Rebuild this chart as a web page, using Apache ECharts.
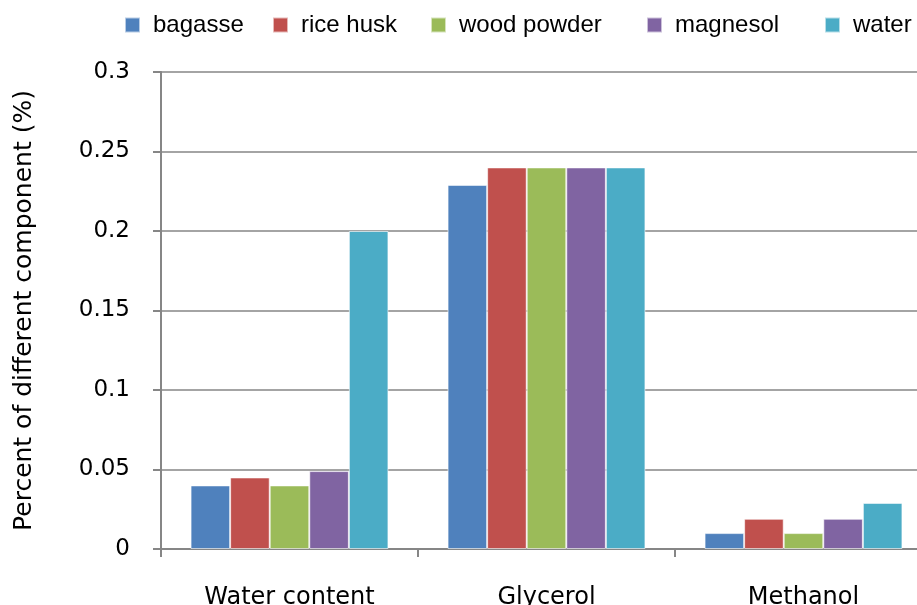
<!DOCTYPE html>
<html><head><meta charset="utf-8">
<script src="https://cdn.jsdelivr.net/npm/echarts@6/dist/echarts.min.js"></script>
<style>html,body{margin:0;padding:0;background:#fff;overflow:hidden;width:917px;height:605px}#c{width:932px;height:605px}</style>
</head><body><div id="c"></div>
<script>
const categories = ['Water content', 'Glycerol', 'Methanol'];
const seriesNames = ['bagasse', 'rice husk', 'wood powder', 'magnesol', 'water'];
const bagasse = [0.04, 0.229, 0.01];
const riceHusk = [0.045, 0.24, 0.019];
const woodPowder = [0.04, 0.24, 0.01];
const magnesol = [0.049, 0.24, 0.019];
const water = [0.2, 0.24, 0.029];
const yTicks = [0, 0.05, 0.1, 0.15, 0.2, 0.25, 0.3];

const colors = ['#4F81BD', '#C0504D', '#9BBB59', '#8064A2', '#4BACC6'];
const values = [bagasse, riceHusk, woodPowder, magnesol, water];
const legendLeft = [119, 267, 425, 641, 819];

const chart = echarts.init(document.getElementById('c'));
chart.setOption({
  animation: false,
  color: colors,
  legend: seriesNames.map((n, i) => ({
    data: [n], left: legendLeft[i], top: 8, itemWidth: 15, itemHeight: 15, itemGap: 0,
    icon: 'rect', selectedMode: false,
    textStyle: { fontFamily: 'Liberation Sans', fontSize: 24, color: '#000', padding: [0, 0, 0, 8] }
  })),
  grid: { left: 161, top: 72, bottom: 56, right: 0, containLabel: false, outerBoundsMode: 'none' },
  xAxis: {
    type: 'category', data: categories,
    axisLine: { lineStyle: { color: '#868686', width: 2 } },
    axisTick: { show: true, length: 8, lineStyle: { color: '#868686', width: 2 } },
    axisLabel: { interval: 0, margin: 37, fontFamily: 'DejaVu Sans', fontSize: 24, color: '#000' }
  },
  yAxis: {
    type: 'value', min: 0, max: 0.3, interval: 0.05,
    name: 'Percent of different component (%)', nameLocation: 'middle', nameGap: 124,
    nameTextStyle: { fontFamily: 'DejaVu Sans', fontSize: 25, color: '#000' },
    axisLine: { show: true, lineStyle: { color: '#868686', width: 2 } },
    axisTick: { show: true, length: 8, lineStyle: { color: '#868686', width: 2 } },
    splitLine: { lineStyle: { color: '#868686', width: 1.5 } },
    axisLabel: { margin: 31, fontFamily: 'DejaVu Sans', fontSize: 23, color: '#000',
      formatter: v => { const t = yTicks.find(x => Math.abs(x - v) < 1e-9); return t === undefined ? '' : String(t); } }
  },
  series: seriesNames.map((n, i) => ({
    name: n, type: 'bar', data: values[i],
    barGap: '0%', barCategoryGap: '23%',
    itemStyle: { color: colors[i], borderColor: 'rgba(255,255,255,0.6)', borderWidth: 1 }
  }))
});
</script></body></html>
